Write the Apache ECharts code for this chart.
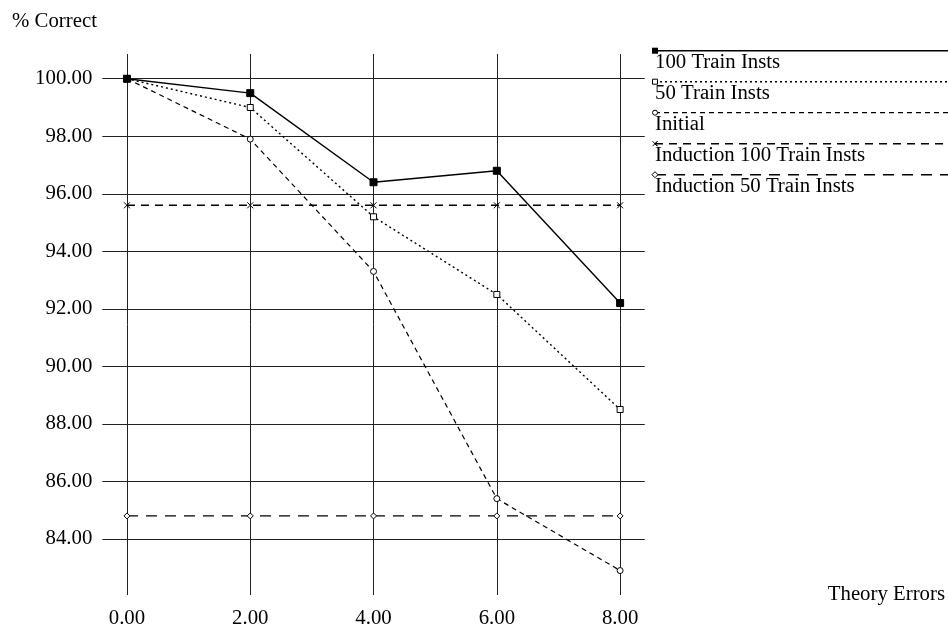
<!DOCTYPE html>
<html>
<head>
<meta charset="utf-8">
<style>html,body{margin:0;padding:0;background:#fff;}#chart{width:948px;height:629px;}</style>
<script src="https://cdn.jsdelivr.net/npm/echarts@6/dist/echarts.min.js"></script>
</head>
<body>
<div id="chart"></div>
<script>
// ---- data ----
const xValues = [0, 2, 4, 6, 8];
const seriesNames = ['100 Train Insts', '50 Train Insts', 'Initial', 'Induction 100 Train Insts', 'Induction 50 Train Insts'];
const train100 = [100.0, 99.5, 96.4, 96.8, 92.2];
const train50 = [100.0, 99.0, 95.2, 92.5, 88.5];
const initial = [100.0, 97.9, 93.3, 85.4, 82.9];
const induction100 = [95.6, 95.6, 95.6, 95.6, 95.6];
const induction50 = [84.8, 84.8, 84.8, 84.8, 84.8];
const yAxisTitle = '% Correct';
const xAxisTitle = 'Theory Errors';

const FONT = 'Liberation Serif';
const FS = 20.8;
const seriesValues = [train100, train50, initial, induction100, induction50];
const styles = [
  { dash: 'solid', width: 1.4, symbol: 'rect', size: 7, fill: '#000' },
  { dash: [2, 3], width: 1.4, symbol: 'rect', size: 6, fill: '#fff' },
  { dash: [5, 4], width: 1.2, symbol: 'circle', size: 6, fill: '#fff' },
  { dash: [8, 6], width: 1.4, symbol: 'path://M0,0L10,10M10,0L0,10', size: 6, fill: 'none' },
  { dash: [11, 8], width: 1.4, symbol: 'diamond', size: 6, fill: '#fff' }
];

const series = seriesNames.map((name, i) => ({
  name: name,
  type: 'line',
  data: xValues.map((x, j) => [x, seriesValues[i][j]]),
  symbol: styles[i].symbol,
  symbolSize: styles[i].size,
  showAllSymbol: true,
  lineStyle: { color: '#000', width: styles[i].width, type: styles[i].dash },
  itemStyle: { color: styles[i].fill, borderColor: '#000', borderWidth: 1 },
  emphasis: { disabled: true },
  animation: false,
  z: 10 - i
}));

// legend drawn as graphic (line across, marker at left, label below)
const legendGraphics = [];
seriesNames.forEach((name, i) => {
  const y = 50.7 + 31 * i;
  const s = styles[i];
  legendGraphics.push({
    type: 'line', shape: { x1: 655, y1: y, x2: 948, y2: y },
    style: { stroke: '#000', lineWidth: s.width, lineDash: s.dash === 'solid' ? null : s.dash }
  });
  let marker;
  if (i === 0) marker = { type: 'rect', shape: { x: 652, y: y - 3, width: 6, height: 6 }, style: { fill: '#000' } };
  else if (i === 1) marker = { type: 'rect', shape: { x: 652.5, y: y - 2.5, width: 5, height: 5 }, style: { fill: '#fff', stroke: '#000', lineWidth: 1 } };
  else if (i === 2) marker = { type: 'circle', shape: { cx: 655, cy: y, r: 2.5 }, style: { fill: '#fff', stroke: '#000', lineWidth: 1 } };
  else if (i === 3) marker = { type: 'polyline', shape: { points: [[652.5, y - 2.5], [657.5, y + 2.5], [655, y], [657.5, y - 2.5], [652.5, y + 2.5]] }, style: { fill: null, stroke: '#000', lineWidth: 1 } };
  else marker = { type: 'polygon', shape: { points: [[655, y - 3], [658, y], [655, y + 3], [652, y]] }, style: { fill: '#fff', stroke: '#000', lineWidth: 1 } };
  legendGraphics.push(marker);
  legendGraphics.push({
    type: 'text', x: 655, y: y + 12,
    style: { text: name, font: FS + 'px "' + FONT + '"', fill: '#000', align: 'left', verticalAlign: 'middle' }
  });
});

const fmt = v => (Math.abs(v / 2 - Math.round(v / 2)) < 1e-6) ? v.toFixed(2) : '';

const option = {
  animation: false,
  backgroundColor: '#fff',
  textStyle: { fontFamily: FONT },
  grid: { left: 102.3, right: 303, top: 54, bottom: 34, containLabel: false },
  xAxis: {
    type: 'value',
    min: -0.4, max: 8.4,
    splitNumber: 4, minInterval: 2, maxInterval: 2,
    name: xAxisTitle,
    nameLocation: 'end',
    nameGap: 183,
    nameTextStyle: { fontFamily: FONT, fontSize: FS, color: '#000', align: 'left', verticalAlign: 'middle' },
    axisLine: { show: false },
    axisTick: { show: false },
    axisLabel: { formatter: fmt, fontFamily: FONT, fontSize: FS, color: '#000', margin: 13 },
    splitLine: { show: true, showMinLine: false, showMaxLine: false, lineStyle: { color: '#222', width: 1 } }
  },
  yAxis: {
    type: 'value',
    min: 82.05, max: 100.86,
    splitNumber: 9, minInterval: 2, maxInterval: 2,
    name: yAxisTitle,
    nameLocation: 'end',
    nameGap: 22,
    nameTextStyle: { fontFamily: FONT, fontSize: FS, color: '#000', align: 'right', padding: [0, 30, 0, 0] },
    axisLine: { show: false },
    axisTick: { show: false },
    axisLabel: { formatter: fmt, fontFamily: FONT, fontSize: FS, color: '#000', margin: 10 },
    splitLine: { show: true, showMinLine: false, showMaxLine: false, lineStyle: { color: '#222', width: 1 } }
  },
  graphic: legendGraphics,
  series: series
};

const chart = echarts.init(document.getElementById('chart'), null, { renderer: 'canvas' });
chart.setOption(option);
</script>
</body>
</html>
